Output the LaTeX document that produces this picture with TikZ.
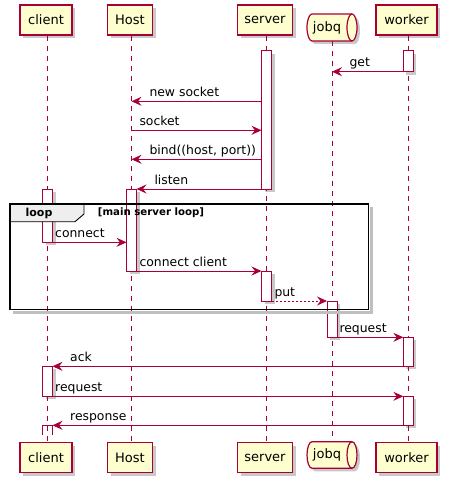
\documentclass[tikz,border=0pt]{standalone}
\usepackage{fontspec}
\setmainfont{DejaVu Sans}
\usetikzlibrary{arrows.meta,shadows}
\definecolor{pu}{HTML}{A80036}
\definecolor{pufill}{HTML}{FEFECE}
\definecolor{tabgray}{HTML}{EEEEEE}
\begin{document}
\begin{tikzpicture}[x=1pt,y=-1pt,
  shad/.style={drop shadow={shadow xshift=3pt,shadow yshift=-3pt,opacity=0.3,fill=black!70}},
  part/.style={draw=pu,fill=pufill,line width=1.2pt,inner sep=0pt,minimum height=30pt,font=\fontsize{13}{15}\selectfont,shad},
  qbox/.style={draw=pu,fill=pufill,line width=1.2pt,shad},
  qtext/.style={inner sep=0pt,font=\fontsize{13}{15}\selectfont},
  life/.style={draw=pu,line width=0.8pt,dash pattern=on 5pt off 5pt},
  act/.style={draw=pu,fill=white,line width=0.9pt,shad},
  msg/.style={draw=pu,line width=0.9pt,-{Stealth[length=10pt,width=9pt,inset=3.5pt]}},
  dmsg/.style={msg,dash pattern=on 2pt off 2pt},
  lbl/.style={anchor=base west,inner sep=0pt,font=\fontsize{12.4}{14}\selectfont}]
\useasboundingbox (0,0) rectangle (450,486);

% lifelines
\coordinate (jqTop) at (332,41);
\coordinate (jqBot) at (332,441.7);
\node[part,minimum width=52pt] (clientT) at (46,20) {client};
\node[part,minimum width=45pt] (hostT) at (130,20) {Host};
\node[part,minimum width=55pt] (serverT) at (265,20) {server};
\node[part,minimum width=61pt] (workerT) at (406.5,20) {worker};
\node[part,minimum width=52pt] (clientB) at (46,457.5) {client};
\node[part,minimum width=45pt] (hostB) at (130,457.5) {Host};
\node[part,minimum width=55pt] (serverB) at (265,457.5) {server};
\node[part,minimum width=61pt] (workerB) at (406.5,457.5) {worker};
\draw[life] ([xshift=1.5pt]clientT.south) -- ([xshift=1.5pt]clientB.north);
\draw[life] ([xshift=1.5pt]hostT.south) -- ([xshift=1.5pt]hostB.north);
\draw[life] ([xshift=1.5pt]serverT.south) -- ([xshift=1.5pt]serverB.north);
\draw[life] ([xshift=1.5pt]workerT.south) -- ([xshift=1.5pt]workerB.north);
\draw[life] (jqTop) -- (jqBot);

% jobq queues
\draw[qbox] (312,14) arc[start angle=-90,end angle=-270,x radius=5,y radius=13.5]
  -- (352,41) arc[start angle=90,end angle=-90,x radius=5,y radius=13.5] -- cycle;
\draw[pu,line width=1.2pt] (352,14) arc[start angle=-90,end angle=-270,x radius=5,y radius=13.5];
\node[qtext] (jobqT) at (327,27.5) {jobq};
\draw[qbox] (312,441.7) arc[start angle=-90,end angle=-270,x radius=5,y radius=13.3]
  -- (352,468.3) arc[start angle=90,end angle=-90,x radius=5,y radius=13.3] -- cycle;
\draw[pu,line width=1.2pt] (352,441.7) arc[start angle=-90,end angle=-270,x radius=5,y radius=13.3];
\node[qtext] (jobqB) at (327,455) {jobq};

% activation bars
\draw[act] (261.5,50.7) rectangle (271.5,189);
\draw[act] (403.3,50.7) rectangle (413.3,71.7);
\draw[act] (42.5,189) rectangle (52.5,242.3);
\draw[act] (126.5,189) rectangle (136.5,271);
\draw[act] (261.5,271) rectangle (271.5,301);
\draw[act] (327,301) rectangle (337,337.3);
\draw[act] (403.3,337.3) rectangle (413.3,366.3);
\draw[act] (42.5,366.3) rectangle (52.5,396.3);
\draw[act] (403.3,396.3) rectangle (413.3,425.3);
\draw[draw=pu,line width=0.9pt] (42.5,435) -- (42.5,425.3) -- (52.5,425.3) -- (52.5,435);

% messages
\coordinate (m1a) at (403.3,71.7);  \coordinate (m1b) at (332,71.7);
\coordinate (m2a) at (261.5,101.3); \coordinate (m2b) at (131.5,101.3);
\coordinate (m3a) at (131.5,130.3); \coordinate (m3b) at (261.5,130.3);
\coordinate (m4a) at (261.5,159.3); \coordinate (m4b) at (131.5,159.3);
\coordinate (m5a) at (261.5,189);   \coordinate (m5b) at (136.5,189);
\coordinate (m6a) at (52.5,242.3);  \coordinate (m6b) at (126.5,242.3);
\coordinate (m7a) at (136.5,271);   \coordinate (m7b) at (261.5,271);
\coordinate (m8a) at (271.5,301);   \coordinate (m8b) at (327,301);
\coordinate (m9a) at (337,337.3);   \coordinate (m9b) at (403.3,337.3);
\coordinate (m10a) at (403.3,366.3); \coordinate (m10b) at (52.5,366.3);
\coordinate (m11a) at (52.5,396.3);  \coordinate (m11b) at (403.3,396.3);
\coordinate (m12a) at (403.3,425.3); \coordinate (m12b) at (52.5,425.3);
\draw[msg] (m1a) -- (m1b);
\draw[msg] (m2a) -- (m2b);
\draw[msg] (m3a) -- (m3b);
\draw[msg] (m4a) -- (m4b);
\draw[msg] (m5a) -- (m5b);
\draw[msg] (m6a) -- (m6b);
\draw[msg] (m7a) -- (m7b);
\draw[dmsg] (m8a) -- (m8b);
\draw[msg] (m9a) -- (m9b);
\draw[msg] (m10a) -- (m10b);
\draw[msg] (m11a) -- (m11b);
\draw[msg] (m12a) -- (m12b);
\node[lbl] (l1) at (349.3,66.7) {get};
\node[lbl] (l2) at (149.3,96.3) {new socket};
\node[lbl] (l3) at (139.3,125.3) {socket};
\node[lbl] (l4) at (149.3,154.3) {bind((host, port))};
\node[lbl] (l5) at (154.3,184) {listen};
\node[lbl] (l6) at (55,237.3) {connect};
\node[lbl] (l7) at (139.3,266) {connect client};
\node[lbl] (l8) at (274.3,296) {put};
\node[lbl] (l9) at (339.3,332.3) {request};
\node[lbl] (l10) at (70,361.3) {ack};
\node[lbl] (l11) at (55,391.3) {request};
\node[lbl] (l12) at (70,420.3) {response};

% loop frame
\draw[black!25,line width=3pt] (371.5,207) -- (371.5,312.5) -- (13,312.5);
\draw[fill=tabgray,line width=0.9pt] (10,204) -- (84,204) -- (84,214) -- (75,221.7) -- (10,221.7) -- cycle;
\draw[line width=1.6pt] (10,204) rectangle (368.3,309.3);
\node[inner sep=0pt,font=\bfseries\fontsize{11}{13}\selectfont] (looplbl) at (39,213) {loop};
\node[inner sep=0pt,font=\bfseries\fontsize{10.2}{12}\selectfont] (loopcond) at (151,213) {[main server loop]};
\end{tikzpicture}
\end{document}
